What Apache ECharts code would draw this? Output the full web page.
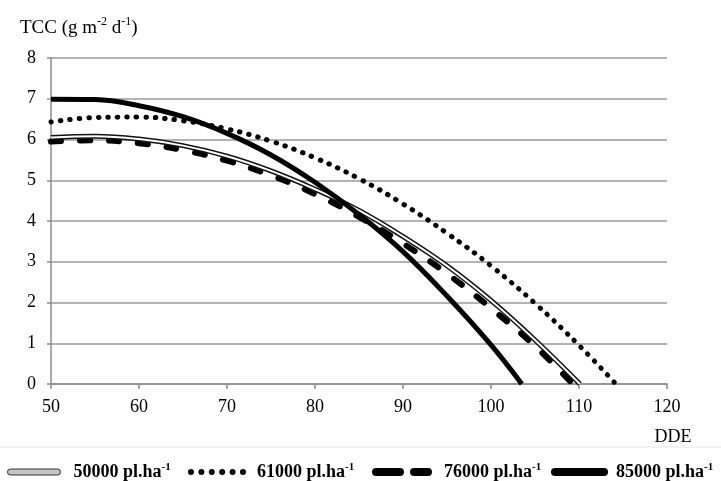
<html>
<head>
<meta http-equiv="Content-Type" content="text/html; charset=utf-8" />
<title>TCC</title>
<style>
  html, body { margin: 0; padding: 0; background: #fff; }
  #chart { width: 721px; height: 481px; }
</style>
</head>
<body>
<div id="chart"></div>
<script src="https://cdn.jsdelivr.net/npm/echarts@6/dist/echarts.min.js"></script>
<script>
// DDE steps
var dde = [50, 55, 60, 65, 70, 75, 80, 85, 90, 95, 100, 105, 110];

// TCC (g m-2 d-1) per planting density
var tcc50000 = [6.05, 6.08, 6.01, 5.85, 5.59, 5.23, 4.78, 4.26, 3.62, 2.90, 2.05, 1.08];
var tcc61000 = [6.43, 6.54, 6.55, 6.46, 6.26, 5.96, 5.55, 5.04, 4.42, 3.70, 2.90, 1.98, 0.95];
var tcc76000 = [5.95, 5.98, 5.91, 5.74, 5.48, 5.12, 4.66, 4.10, 3.45, 2.71, 1.86, 0.93];
var tcc85000 = [6.99, 6.98, 6.83, 6.56, 6.15, 5.62, 4.95, 4.16, 3.25, 2.16, 0.96];

// DDE where each curve reaches zero
var end50000 = 110.1;
var end61000 = 114.2;
var end76000 = 109.3;
var end85000 = 103.5;

var xTicks = [50, 60, 70, 80, 90, 100, 110, 120];
var yTicks = [0, 1, 2, 3, 4, 5, 6, 7, 8];

function pairs(vals, end) {
    var out = [];
    for (var i = 0; i < vals.length; i++) {
        out.push([dde[i], vals[i]]);
    }
    out.push([end, 0]);
    return out;
}

var serif = 'Liberation Serif';
var rich = {
    b: { fontFamily: serif, fontWeight: 'bold', fontSize: 18, lineHeight: 20, color: '#000' },
    s: { fontFamily: serif, fontWeight: 'bold', fontSize: 11, lineHeight: 11, verticalAlign: 'top', color: '#000' }
};
function legendLabel(name) {
    return '{b|' + name + ' pl.ha}{s|-1}';
}
function makeLegend(name, left, w, h, icon, itemStyle, pad) {
    return {
        left: left,
        top: 457,
        itemWidth: w,
        itemHeight: h,
        selectedMode: false,
        formatter: legendLabel,
        textStyle: { rich: rich, padding: [0, 0, 0, pad] },
        data: [{ name: name, icon: icon, itemStyle: itemStyle }]
    };
}

var capsule = 'path://M3,0 L50,0 A3,3 0 0 1 50,6 L3,6 A3,3 0 0 1 3,0 Z';
var dots = 'path://M0,3 A3,3 0 1 0 6,3 A3,3 0 1 0 0,3 Z' +
    'M10.4,3 A3,3 0 1 0 16.4,3 A3,3 0 1 0 10.4,3 Z' +
    'M20.8,3 A3,3 0 1 0 26.8,3 A3,3 0 1 0 20.8,3 Z' +
    'M31.2,3 A3,3 0 1 0 37.2,3 A3,3 0 1 0 31.2,3 Z' +
    'M41.6,3 A3,3 0 1 0 47.6,3 A3,3 0 1 0 41.6,3 Z' +
    'M52,3 A3,3 0 1 0 58,3 A3,3 0 1 0 52,3 Z';
var dashes = 'path://M4,0 L28,0 A4,4 0 0 1 28,8 L4,8 A4,4 0 0 1 4,0 Z' +
    'M42,0 L56,0 A4,4 0 0 1 56,8 L42,8 A4,4 0 0 1 42,0 Z';
var bar = 'path://M4,0 L53,0 A4,4 0 0 1 53,8 L4,8 A4,4 0 0 1 4,0 Z';

var chart = echarts.init(document.getElementById('chart'));

var option = {
    animation: false,
    backgroundColor: '#fff',
    title: {
        left: 15,
        top: 11,
        text: '{a|TCC (g m}{s|-2}{a| d}{s|-1}{a|)}',
        textStyle: {
            rich: {
                a: { fontFamily: serif, fontWeight: 'normal', fontSize: 19, lineHeight: 24, color: '#000' },
                s: { fontFamily: serif, fontWeight: 'normal', fontSize: 12, lineHeight: 12, verticalAlign: 'top', color: '#000' }
            }
        }
    },
    grid: { left: 51, right: 54, top: 58, bottom: 97 },
    legend: [
        makeLegend('50000', 2, 53, 6, capsule, { color: '#c4c4c4', borderColor: '#333', borderWidth: 1 }, 8),
        makeLegend('61000', 183, 58, 6, dots, { color: '#000' }, 6),
        makeLegend('76000', 367, 60, 8, dashes, { color: '#000' }, 7),
        makeLegend('85000', 546, 57, 8, bar, { color: '#000' }, 3)
    ],
    graphic: [{
        type: 'line',
        shape: { x1: 0, y1: 447, x2: 721, y2: 447 },
        style: { stroke: '#e3e3e3', lineWidth: 1 }
    }],
    xAxis: {
        type: 'value',
        min: xTicks[0],
        max: xTicks[xTicks.length - 1],
        interval: 10,
        name: 'DDE',
        nameLocation: 'end',
        nameGap: 6,
        nameTextStyle: { fontFamily: serif, fontSize: 18, color: '#000', align: 'center', verticalAlign: 'top', padding: [44, 0, 0, 0] },
        axisLine: { lineStyle: { color: '#8c8c8c', width: 1.5 } },
        axisTick: { show: true, length: 5, lineStyle: { color: '#8c8c8c', width: 1.5 } },
        axisLabel: { fontFamily: serif, fontSize: 18, color: '#000', margin: 14 },
        splitLine: { show: false }
    },
    yAxis: {
        type: 'value',
        min: yTicks[0],
        max: yTicks[yTicks.length - 1],
        interval: 1,
        axisLine: { show: true, lineStyle: { color: '#8c8c8c', width: 1.5 } },
        axisTick: { show: true, length: 4, lineStyle: { color: '#8c8c8c', width: 1.5 } },
        axisLabel: { fontFamily: serif, fontSize: 18, color: '#000', margin: 15 },
        splitLine: { lineStyle: { color: '#9a9a9a', width: 1.5 } }
    },
    series: [
        {
            name: '61000',
            type: 'line',
            smooth: 0.4,
            symbol: 'none',
            data: pairs(tcc61000, end61000),
            lineStyle: { color: '#000', width: 5, type: [0.5, 9], cap: 'round' }
        },
        {
            name: '76000',
            type: 'line',
            smooth: 0.4,
            symbol: 'none',
            data: pairs(tcc76000, end76000),
            lineStyle: { color: '#000', width: 6, type: [10, 19], cap: 'round' }
        },
        {
            name: '50000',
            type: 'line',
            smooth: 0.4,
            symbol: 'none',
            data: pairs(tcc50000, end50000),
            lineStyle: { color: '#111', width: 5 }
        },
        {
            name: '50000 inner',
            type: 'line',
            smooth: 0.4,
            symbol: 'none',
            data: pairs(tcc50000, end50000),
            lineStyle: { color: '#fff', width: 2 }
        },
        {
            name: '85000',
            type: 'line',
            smooth: 0.4,
            symbol: 'none',
            data: pairs(tcc85000, end85000),
            lineStyle: { color: '#000', width: 5 }
        }
    ]
};

chart.setOption(option);
</script>
</body>
</html>
